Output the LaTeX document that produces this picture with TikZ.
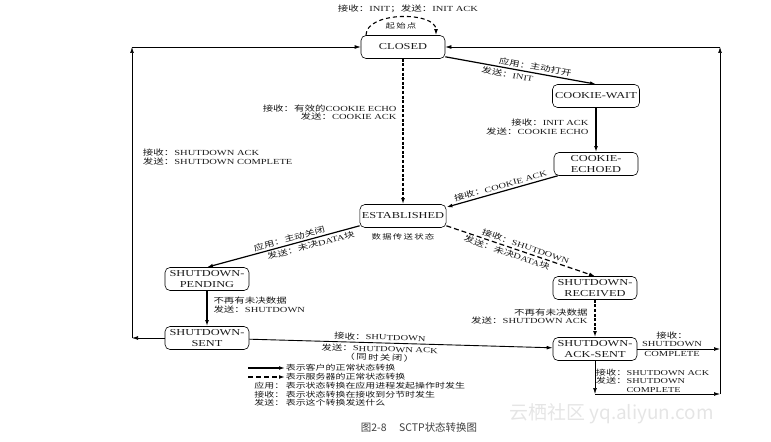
\documentclass[tikz,border=0pt]{standalone}
\usepackage{fontspec}
\setmainfont{Liberation Serif}[FakeStretch=1.35]
\newfontfamily\cjk{Noto Sans CJK SC}[FakeStretch=1.35]
\newfontfamily\cjkw{Noto Sans CJK SC}[FakeStretch=1.35,LetterSpace=18]
\newfontfamily\capfont{Noto Sans CJK SC}
\newcommand{\zh}[1]{{\cjk #1}}
\usetikzlibrary{arrows.meta}

\tikzset{
  state/.style={draw, rounded corners=5bp, line width=0.6bp, minimum width=84bp,
    minimum height=23bp, inner sep=2bp, align=center, text=black!90,
    font=\fontsize{9.2}{11.5}\selectfont},
  lbl/.style={font=\fontsize{7.8}{8.8}\selectfont, inner sep=0.6bp, text=black!90},
  keytext/.style={lbl, anchor=west, font=\fontsize{7.4}{8}\selectfont},
  tip/.style={-{Latex[length=6bp,width=3.8bp]}},
  client/.style={tip, line width=1.2bp},
  clientbold/.style={tip, line width=1.8bp},
  server/.style={tip, line width=1.2bp, dash pattern=on 5bp off 3bp},
  serverbold/.style={tip, line width=1.8bp, dash pattern=on 3bp off 1.6bp},
  thinline/.style={tip, line width=0.6bp},
}

\begin{document}
\begin{tikzpicture}[x=1bp, y=1bp]
\useasboundingbox (0,0) rectangle (771,-442);

% states
\node[state] (closed) at (403,-47) {CLOSED};
\node[state, minimum width=87bp] (cwait) at (596,-96) {COOKIE-WAIT};
\node[state] (cecho) at (596,-164) {COOKIE-\\ECHOED};
\node[state, minimum width=86bp] (estab) at (403,-216) {ESTABLISHED};
\node[state] (spend) at (207,-279) {SHUTDOWN-\\PENDING};
\node[state] (ssent) at (207,-338) {SHUTDOWN-\\SENT};
\node[state] (srecv) at (595,-288) {SHUTDOWN-\\RECEIVED};
\node[state] (sack) at (595,-349) {SHUTDOWN-\\ACK-SENT};

% self loop on CLOSED
\node[lbl] (initlbl) at (408,-9) {\zh{接收：}INIT\zh{；发送：}INIT ACK};
\node[lbl, font=\fontsize{7}{8}\selectfont] (startlbl) at (401,-26) {\cjkw 起始点};
\draw[tip, line width=1.1bp, dash pattern=on 4bp off 3bp]
  ([xshift=-37bp]closed.north) .. controls +(0,24) and +(0,24) .. ([xshift=33bp]closed.north);

% client side
\draw[client] ([yshift=2bp]closed.south east) -- (cwait.north)
  node[lbl, sloped, above=1.2bp, pos=0.59] {\zh{应用：主动打开}}
  node[lbl, sloped, below=1.2bp, pos=0.42] {\zh{发送：}INIT};
\draw[clientbold] (cwait) -- (cecho)
  node[lbl, left, pos=0.44, align=right, xshift=-6bp] {\zh{接收：}INIT ACK\\\zh{发送：}COOKIE ECHO};
\draw[client] ([xshift=4bp]cecho.south west) -- ([yshift=-3bp]estab.north east)
  node[lbl, sloped, above=1.2bp, pos=0.5] {\zh{接收：}COOKIE ACK};

% server side
\draw[serverbold] (closed) -- (estab)
  node[lbl, left, pos=0.37, align=right, xshift=-5bp] {\zh{接收：有效的}COOKIE ECHO\\\zh{发送：}COOKIE ACK};
\node[lbl, font=\fontsize{7}{8}\selectfont] (datalbl) at (403,-237) {\cjkw 数据传送状态};

% shutdown
\draw[client] ([yshift=2bp]estab.south west) -- (spend.north)
  node[lbl, sloped, above=1.2bp, pos=0.45] {\zh{应用：主动关闭}}
  node[lbl, sloped, below=1.2bp, pos=0.33] {\zh{发送：未决}DATA\zh{块}};
\draw[server] ([yshift=2bp]estab.south east) -- (srecv.north)
  node[lbl, sloped, above=1.2bp, pos=0.52] {\zh{接收：}SHUTDOWN}
  node[lbl, sloped, below=1.2bp, pos=0.42] {\zh{发送：未决}DATA\zh{块}};
\draw[clientbold] (spend) -- (ssent)
  node[lbl, right, pos=0.4, align=left, xshift=5bp] {\zh{不再有未决数据}\\\zh{发送：}SHUTDOWN};
\draw[serverbold] (srecv) -- (sack)
  node[lbl, left, pos=0.45, align=right, xshift=-6bp] {\zh{不再有未决数据}\\\zh{发送：}SHUTDOWN ACK};
\draw[client, line width=0.9bp] (ssent) -- (sack)
  node[lbl, sloped, above=1.2bp, pos=0.43] {\zh{接收：}SHUTDOWN}
  node[lbl, sloped, below=1.2bp, pos=0.43, align=center] {\zh{发送：}SHUTDOWN ACK\\{\cjkw （同时关闭）}};

% back to CLOSED, left
\coordinate (lb) at (132,-338);
\coordinate (lt) at (132,-47);
\draw[thinline] (ssent) -- (lb);
\draw[thinline] (lb) -- (lt)
  node[lbl, right, pos=0.622, align=left, xshift=10bp] {\zh{接收：}SHUTDOWN ACK\\\zh{发送：}SHUTDOWN COMPLETE};
\draw[thinline] (lt) -- (closed);

% back to CLOSED, right
\coordinate (rm) at (720,-349);
\coordinate (rb1) at (595,-394);
\coordinate (rb2) at (720,-394);
\coordinate (rt) at (720,-47);
\draw[thinline] (sack) -- (rm)
  node[lbl, above=1bp, pos=0.42, align=center] {\zh{接收：}\\SHUTDOWN}
  node[lbl, below=1bp, pos=0.42] {COMPLETE};
\draw[thinline] (sack) -- (rb1)
  node[lbl, right, pos=0.6, align=left, font=\fontsize{7.6}{8.4}\selectfont]
  {\zh{接收：}SHUTDOWN ACK\\\zh{发送：}SHUTDOWN\\\hphantom{\zh{发送：}}COMPLETE};
\draw[thinline] (rb1) -- (rb2);
\draw[thinline] (rb2) -- (rt);
\draw[thinline] (rt) -- (closed);

% legend
\coordinate (k1a) at (248,-368);
\coordinate (k2a) at (248,-377);
\node[keytext] (k1) at (285,-368) {\zh{表示客户的正常状态转换}};
\node[keytext] (k2) at (285,-377) {\zh{表示服务器的正常状态转换}};
\node[keytext] (k3) at (285,-386) {\zh{表示状态转换在应用进程发起操作时发生}};
\node[keytext] (k4) at (285,-394.5) {\zh{表示状态转换在接收到分节时发生}};
\node[keytext] (k5) at (285,-403) {\zh{表示这个转换发送什么}};
\node[keytext, anchor=east] (k3key) at (k3.west) {\zh{应用：}};
\node[keytext, anchor=east] (k4key) at (k4.west) {\zh{接收：}};
\node[keytext, anchor=east] (k5key) at (k5.west) {\zh{发送：}};
\draw[client] (k1a) -- (k1);
\draw[server] (k2a) -- (k2);

% caption and mark
\node[font=\capfont\fontsize{10.5}{12}\selectfont, text=black!75] (caption) at (419,-428) {图2-8\hspace{1.2em}SCTP状态转换图};
\node[anchor=west, text=black!10, font=\capfont\fontsize{19}{20}\selectfont] (mark) at (506,-414) {云栖社区 yq.aliyun.com};
\end{tikzpicture}
\end{document}
